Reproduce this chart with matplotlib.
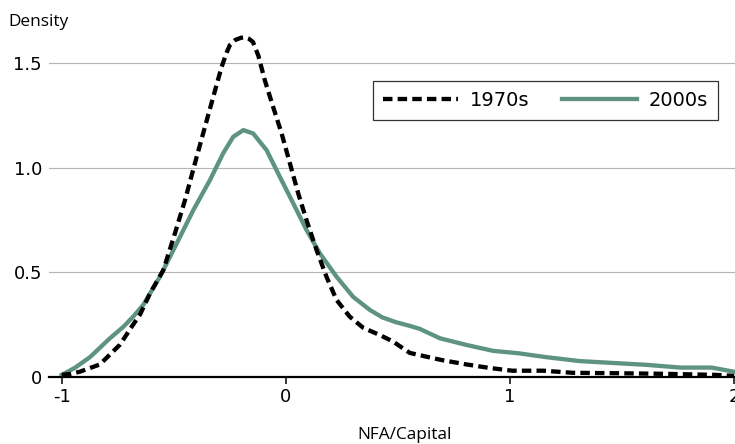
import numpy as np
import matplotlib
matplotlib.use("Agg")
import matplotlib.pyplot as plt

# --- data ---
x_1970s = [-1.0, -0.96, -0.92, -0.83, -0.74, -0.688, -0.65, -0.606, -0.547, -0.495,
           -0.45, -0.406, -0.361, -0.324, -0.287, -0.264, -0.25, -0.225, -0.2, -0.183,
           -0.165, -0.147, -0.123, -0.094, -0.057, -0.019, 0.018, 0.055, 0.092, 0.137,
           0.181, 0.226, 0.285, 0.345, 0.42, 0.477, 0.553, 0.656, 0.70, 0.806,
           0.91, 1.01, 1.15, 1.28, 1.475, 1.70, 1.92, 2.0]
y_1970s = [0.01, 0.015, 0.025, 0.06, 0.155, 0.24, 0.30, 0.40, 0.51, 0.686,
           0.845, 1.02, 1.195, 1.338, 1.48, 1.55, 1.585, 1.61, 1.62, 1.622,
           1.615, 1.60, 1.535, 1.417, 1.29, 1.163, 1.02, 0.877, 0.749, 0.606,
           0.479, 0.368, 0.288, 0.235, 0.20, 0.17, 0.115, 0.09, 0.08, 0.06,
           0.043, 0.03, 0.03, 0.02, 0.018, 0.015, 0.01, 0.005]

x_2000s = [-1.0, -0.94, -0.874, -0.785, -0.725, -0.68, -0.636, -0.562, -0.487, -0.413,
           -0.339, -0.28, -0.235, -0.19, -0.146, -0.086, -0.027, 0.033, 0.092, 0.152,
           0.226, 0.30, 0.375, 0.43, 0.49, 0.55, 0.597, 0.687, 0.806, 0.924, 1.04,
           1.16, 1.31, 1.46, 1.61, 1.76, 1.90, 2.0]
y_2000s = [0.01, 0.045, 0.095, 0.185, 0.24, 0.29, 0.345, 0.479, 0.638, 0.797,
           0.94, 1.068, 1.147, 1.179, 1.163, 1.083, 0.956, 0.829, 0.702, 0.59,
           0.479, 0.383, 0.32, 0.285, 0.262, 0.245, 0.23, 0.185, 0.153, 0.125, 0.113,
           0.095, 0.076, 0.067, 0.058, 0.045, 0.045, 0.025]

x_ticks = [-1, 0, 1, 2]
x_ticklabels = ["-1", "0", "1", "2"]
y_ticks = [0, 0.5, 1.0, 1.5]
y_ticklabels = ["0", "0.5", "1.0", "1.5"]

GREEN = "#5e9381"

W, H = 735, 444
fig = plt.figure(figsize=(W / 100, H / 100), dpi=100)
ax = fig.add_axes([49 / W, (H - 377) / H, (W - 49) / W, 356 / H])

ax.plot(x_1970s, y_1970s, color="black", lw=3.1, dashes=(2.2, 1.2),
        label="1970s", zorder=3, dash_joinstyle="round")
ax.plot(x_2000s, y_2000s, color=GREEN, lw=3.1, label="2000s", zorder=2,
        solid_joinstyle="round")

ax.set_xlim(-1.057, 2.004)
ax.set_ylim(0, 1.7)

ax.set_xticks(x_ticks)
ax.set_xticklabels(x_ticklabels)
ax.set_yticks(y_ticks)
ax.set_yticklabels(y_ticklabels)

for s in ["left", "top", "right"]:
    ax.spines[s].set_visible(False)
ax.spines["bottom"].set_linewidth(1.6)
ax.spines["bottom"].set_zorder(4)

ax.tick_params(axis="x", length=5, width=1.1, color="black", labelsize=13, pad=3)
ax.tick_params(axis="y", length=0, labelsize=13, pad=5)

ax.yaxis.grid(True, color="#b5b5b5", lw=0.8)
ax.set_axisbelow(True)

leg = ax.legend(loc="upper right", bbox_to_anchor=(718 / W, 1 - 81 / H),
                bbox_transform=fig.transFigure, ncol=2, fontsize=14,
                frameon=True, fancybox=False, borderaxespad=0,
                handlelength=3.86, handletextpad=0.62, columnspacing=1.64,
                borderpad=0.52)
leg.get_frame().set_edgecolor("black")
leg.get_frame().set_linewidth(0.9)

fig.text(8 / W, 1 - 22 / H, "Density", family="Open Sans", fontsize=12.4,
         ha="left", va="center")
fig.text(357 / W, 1 - 435 / H, "NFA/Capital", family="Open Sans", fontsize=12.4,
         ha="left", va="center")

fig.savefig("out.png", dpi=100)
